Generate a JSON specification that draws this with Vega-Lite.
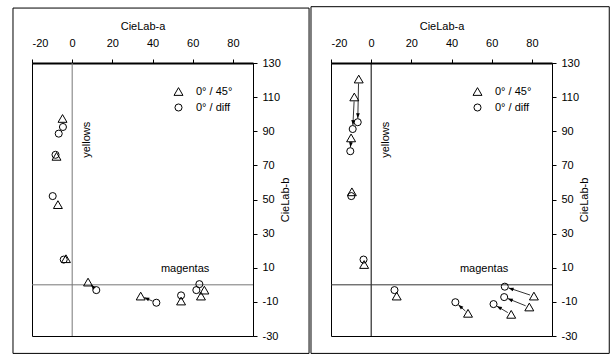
{
  "$schema": "https://vega.github.io/schema/vega-lite/v6.json",
  "padding": {"left": 11, "top": 5, "right": 0, "bottom": 0},
  "bounds": "flush",
  "spacing": 78,
  "config": {
    "font": "Liberation Sans",
    "view": {"stroke": "black", "strokeWidth": 1},
    "axis": {"grid": false, "labelFont": "Liberation Sans", "titleFont": "Liberation Sans", "labelFontSize": 11, "titleFontSize": 11, "titleFontWeight": "normal", "labelColor": "black", "titleColor": "black", "tickColor": "black", "domainColor": "black", "labelOverlap": false}
  },
  "datasets": {
    "one": [{}],
    "leftPts": [
      {"a": -4.8, "b": 97.5, "type": "0° / 45°"},
      {"a": -4.6, "b": 92.5, "type": "0° / diff"},
      {"a": -6.7, "b": 88.6, "type": "0° / diff"},
      {"a": -8.3, "b": 76.2, "type": "0° / diff"},
      {"a": -7.8, "b": 75.3, "type": "0° / 45°"},
      {"a": -9.7, "b": 52.0, "type": "0° / diff"},
      {"a": -7.1, "b": 47.0, "type": "0° / 45°"},
      {"a": -4.2, "b": 14.8, "type": "0° / diff"},
      {"a": -3.1, "b": 15.3, "type": "0° / 45°"},
      {"a": 7.9, "b": 1.6, "type": "0° / 45°"},
      {"a": 12.0, "b": -3.1, "type": "0° / diff"},
      {"a": 34.1, "b": -6.6, "type": "0° / 45°"},
      {"a": 41.9, "b": -10.5, "type": "0° / diff"},
      {"a": 54.2, "b": -6.2, "type": "0° / diff"},
      {"a": 54.2, "b": -9.5, "type": "0° / 45°"},
      {"a": 63.3, "b": 0.4, "type": "0° / diff"},
      {"a": 61.8, "b": -3.1, "type": "0° / diff"},
      {"a": 64.1, "b": -6.6, "type": "0° / 45°"},
      {"a": 65.8, "b": -3.1, "type": "0° / 45°"}
    ],
    "rightPts": [
      {"a": -6.2, "b": 120.6, "type": "0° / 45°"},
      {"a": -8.4, "b": 110.1, "type": "0° / 45°"},
      {"a": -6.7, "b": 95.3, "type": "0° / diff"},
      {"a": -9.2, "b": 91.3, "type": "0° / diff"},
      {"a": -10.0, "b": 86.1, "type": "0° / 45°"},
      {"a": -10.4, "b": 78.3, "type": "0° / diff"},
      {"a": -9.6, "b": 54.5, "type": "0° / 45°"},
      {"a": -9.9, "b": 52.0, "type": "0° / diff"},
      {"a": -3.8, "b": 14.8, "type": "0° / diff"},
      {"a": -3.5, "b": 11.9, "type": "0° / 45°"},
      {"a": 11.6, "b": -3.1, "type": "0° / diff"},
      {"a": 12.7, "b": -6.6, "type": "0° / 45°"},
      {"a": 41.9, "b": -10.2, "type": "0° / diff"},
      {"a": 48.2, "b": -16.7, "type": "0° / 45°"},
      {"a": 66.5, "b": -1.1, "type": "0° / diff"},
      {"a": 81.0, "b": -6.6, "type": "0° / 45°"},
      {"a": 66.2, "b": -7.2, "type": "0° / diff"},
      {"a": 78.7, "b": -13.0, "type": "0° / 45°"},
      {"a": 60.9, "b": -11.3, "type": "0° / diff"},
      {"a": 69.7, "b": -17.3, "type": "0° / 45°"}
    ],
    "leftArrows": [
      {"a1": 10.6, "b1": -1.5, "a2": 9.3, "b2": 0.0},
      {"a1": 40.1, "b1": -9.6, "a2": 35.9, "b2": -7.5}
    ],
    "rightArrows": [
      {"a1": -6.3, "b1": 118.0, "a2": -6.65, "b2": 97.6},
      {"a1": -8.5, "b1": 107.5, "a2": -9.1, "b2": 93.6},
      {"a1": -10.05, "b1": 83.8, "a2": -10.35, "b2": 80.6},
      {"a1": 46.9, "b1": -15.4, "a2": 43.4, "b2": -11.75},
      {"a1": 79.1, "b1": -6.0, "a2": 68.4, "b2": -1.8},
      {"a1": 76.9, "b1": -12.3, "a2": 68.0, "b2": -8.05},
      {"a1": 68.0, "b1": -16.3, "a2": 62.6, "b2": -12.5}
    ],
    "yLabel": [{"a": 7.5, "b": 85, "t": "yellows"}],
    "mLabel": [{"a": 56.2, "b": 9, "t": "magentas"}]
  },
  "hconcat": [
    {
      "width": 221,
      "height": 273,
      "layer": [
        {
          "data": {"name": "one"},
          "mark": {"type": "rect", "fill": "transparent", "stroke": "black", "strokeWidth": 1, "clip": false},
          "encoding": {
            "x": {"datum": -29.46, "type": "quantitative"},
            "x2": {"datum": 117.9},
            "y": {"datum": 162.2, "type": "quantitative"},
            "y2": {"datum": -40.2}
          }
        },
        {"data": {"name": "one"}, "mark": {"type": "rule", "color": "#777777", "strokeWidth": 1}, "encoding": {"x": {"datum": 0, "type": "quantitative"}}},
        {"data": {"name": "one"}, "mark": {"type": "rule", "color": "#777777", "strokeWidth": 1}, "encoding": {"y": {"datum": 0, "type": "quantitative"}}},
        {
          "data": {"name": "leftArrows"},
          "mark": {"type": "rule", "color": "black", "strokeWidth": 0.8},
          "encoding": {
            "x": {"field": "a1", "type": "quantitative"},
            "x2": {"field": "a2"},
            "y": {"field": "b1", "type": "quantitative"},
            "y2": {"field": "b2"}
          }
        },
        {
          "data": {"name": "leftArrows"},
          "transform": [{"calculate": "atan2((datum.a2-datum.a1)*2.009, (datum.b2-datum.b1)*1.706)*180/PI", "as": "ang"}],
          "mark": {"type": "point", "shape": "M0,0 L-0.75,2 L0.75,2 Z", "filled": true, "color": "black", "size": 25, "opacity": 1},
          "encoding": {
            "x": {"field": "a2", "type": "quantitative"},
            "y": {"field": "b2", "type": "quantitative"},
            "angle": {"field": "ang", "type": "quantitative", "scale": null}
          }
        },
        {
          "data": {"name": "leftPts"},
          "mark": {"type": "point", "filled": false, "color": "black", "strokeWidth": 1, "opacity": 1},
          "encoding": {
            "x": {"field": "a", "type": "quantitative", "scale": {"domain": [-20, 90], "nice": false, "zero": false},
              "axis": {"orient": "top", "values": [-20, 0, 20, 40, 60, 80], "tickCount": 10, "labelExpr": "datum.value + ''", "labelOverlap": false, "title": "CieLab-a", "titleFontWeight": "normal", "domainWidth": 2, "tickSize": 4, "labelPadding": 11, "titlePadding": 6}},
            "y": {"field": "b", "type": "quantitative", "scale": {"domain": [-30, 130], "nice": false, "zero": false},
              "axis": {"orient": "right", "values": [-30, -10, 10, 30, 50, 70, 90, 110, 130], "tickCount": 12, "labelExpr": "datum.value + ''", "labelOverlap": false, "labelBound": false, "title": "CieLab-b", "titleFontWeight": "normal", "titleAngle": 270, "tickSize": 4, "labelPadding": 5, "titlePadding": 10}},
            "shape": {"field": "type", "type": "nominal", "scale": {"domain": ["0° / 45°", "0° / diff"], "range": ["triangle-up", "circle"]},
              "legend": {"orient": "none", "legendX": 141, "legendY": 23, "title": null, "labelFontSize": 11, "labelColor": "black", "labelOffset": 12, "rowPadding": 3, "padding": 0, "symbolStrokeWidth": 1}},
            "size": {"field": "type", "type": "nominal", "scale": {"domain": ["0° / 45°", "0° / diff"], "range": [80, 50]},
              "legend": {"orient": "none", "legendX": 141, "legendY": 23, "title": null, "labelFontSize": 11, "labelColor": "black", "labelOffset": 12, "rowPadding": 3, "padding": 0, "symbolStrokeWidth": 1}}
          }
        },
        {
          "data": {"name": "yLabel"},
          "mark": {"type": "text", "angle": 270, "fontSize": 11, "align": "center", "baseline": "middle", "color": "black"},
          "encoding": {"x": {"field": "a", "type": "quantitative"}, "y": {"field": "b", "type": "quantitative"}, "text": {"field": "t"}}
        },
        {
          "data": {"name": "mLabel"},
          "mark": {"type": "text", "fontSize": 11, "align": "center", "baseline": "middle", "color": "black"},
          "encoding": {"x": {"field": "a", "type": "quantitative"}, "y": {"field": "b", "type": "quantitative"}, "text": {"field": "t"}}
        }
      ]
    },
    {
      "width": 221,
      "height": 273,
      "layer": [
        {
          "data": {"name": "one"},
          "mark": {"type": "rect", "fill": "transparent", "stroke": "black", "strokeWidth": 1, "clip": false},
          "encoding": {
            "x": {"datum": -29.96, "type": "quantitative"},
            "x2": {"datum": 118.5},
            "y": {"datum": 163.0, "type": "quantitative"},
            "y2": {"datum": -40.2}
          }
        },
        {"data": {"name": "one"}, "mark": {"type": "rule", "color": "black", "strokeWidth": 1}, "encoding": {"x": {"datum": 0, "type": "quantitative"}}},
        {"data": {"name": "one"}, "mark": {"type": "rule", "color": "#333333", "strokeWidth": 1}, "encoding": {"y": {"datum": 0, "type": "quantitative"}}},
        {
          "data": {"name": "rightArrows"},
          "mark": {"type": "rule", "color": "black", "strokeWidth": 0.8},
          "encoding": {
            "x": {"field": "a1", "type": "quantitative"},
            "x2": {"field": "a2"},
            "y": {"field": "b1", "type": "quantitative"},
            "y2": {"field": "b2"}
          }
        },
        {
          "data": {"name": "rightArrows"},
          "transform": [{"calculate": "atan2((datum.a2-datum.a1)*2.009, (datum.b2-datum.b1)*1.706)*180/PI", "as": "ang"}],
          "mark": {"type": "point", "shape": "M0,0 L-0.75,2 L0.75,2 Z", "filled": true, "color": "black", "size": 25, "opacity": 1},
          "encoding": {
            "x": {"field": "a2", "type": "quantitative"},
            "y": {"field": "b2", "type": "quantitative"},
            "angle": {"field": "ang", "type": "quantitative", "scale": null}
          }
        },
        {
          "data": {"name": "rightPts"},
          "mark": {"type": "point", "filled": false, "color": "black", "strokeWidth": 1, "opacity": 1},
          "encoding": {
            "x": {"field": "a", "type": "quantitative", "scale": {"domain": [-20, 90], "nice": false, "zero": false},
              "axis": {"orient": "top", "values": [-20, 0, 20, 40, 60, 80], "tickCount": 10, "labelExpr": "datum.value + ''", "labelOverlap": false, "title": "CieLab-a", "titleFontWeight": "normal", "domainWidth": 2, "tickSize": 4, "labelPadding": 11, "titlePadding": 6}},
            "y": {"field": "b", "type": "quantitative", "scale": {"domain": [-30, 130], "nice": false, "zero": false},
              "axis": {"orient": "right", "values": [-30, -10, 10, 30, 50, 70, 90, 110, 130], "tickCount": 12, "labelExpr": "datum.value + ''", "labelOverlap": false, "labelBound": false, "title": "CieLab-b", "titleFontWeight": "normal", "titleAngle": 270, "tickSize": 4, "labelPadding": 5, "titlePadding": 10}},
            "shape": {"field": "type", "type": "nominal", "scale": {"domain": ["0° / 45°", "0° / diff"], "range": ["triangle-up", "circle"]},
              "legend": {"orient": "none", "legendX": 141, "legendY": 23, "title": null, "labelFontSize": 11, "labelColor": "black", "labelOffset": 12, "rowPadding": 3, "padding": 0, "symbolStrokeWidth": 1}},
            "size": {"field": "type", "type": "nominal", "scale": {"domain": ["0° / 45°", "0° / diff"], "range": [80, 50]},
              "legend": {"orient": "none", "legendX": 141, "legendY": 23, "title": null, "labelFontSize": 11, "labelColor": "black", "labelOffset": 12, "rowPadding": 3, "padding": 0, "symbolStrokeWidth": 1}}
          }
        },
        {
          "data": {"name": "yLabel"},
          "mark": {"type": "text", "angle": 270, "fontSize": 11, "align": "center", "baseline": "middle", "color": "black"},
          "encoding": {"x": {"field": "a", "type": "quantitative"}, "y": {"field": "b", "type": "quantitative"}, "text": {"field": "t"}}
        },
        {
          "data": {"name": "mLabel"},
          "mark": {"type": "text", "fontSize": 11, "align": "center", "baseline": "middle", "color": "black"},
          "encoding": {"x": {"field": "a", "type": "quantitative"}, "y": {"field": "b", "type": "quantitative"}, "text": {"field": "t"}}
        }
      ]
    }
  ],
  "resolve": {"legend": {"shape": "independent", "size": "independent"}, "scale": {"shape": "independent", "size": "independent"}}
}
